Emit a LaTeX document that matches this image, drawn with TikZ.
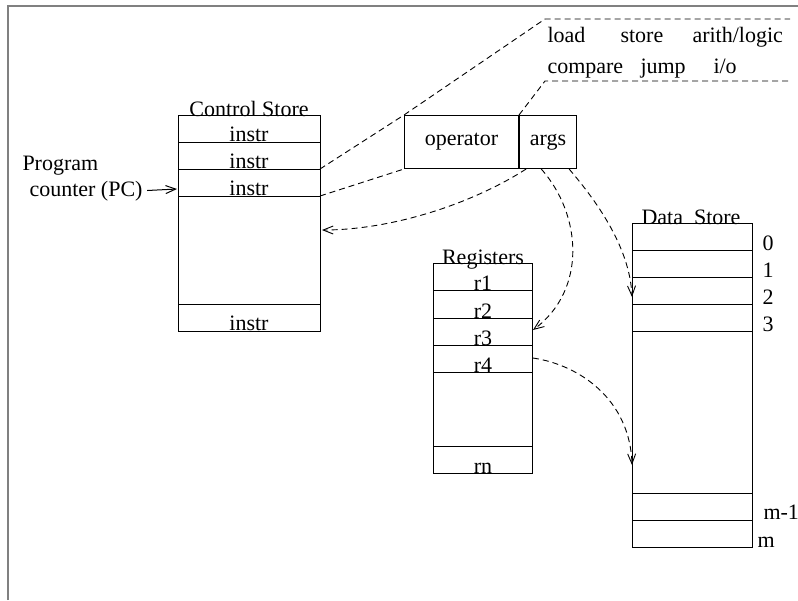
\documentclass[tikz,border=0pt]{standalone}
\usepackage{fontspec}
\setmainfont{Liberation Serif}
\usetikzlibrary{arrows.meta}
\begin{document}
\begin{tikzpicture}[x=1pt, y=-1pt, line width=1pt,
    every node/.style={font=\fontsize{22}{26}\selectfont, inner sep=0pt},
    link/.style={dash pattern=on 6pt off 4pt, line width=0.9pt},
    tip/.style={-{Straight Barb[length=10pt,width=8pt]}}]
        \useasboundingbox (0,0) rectangle (798,600);
        \draw [gray, line width=1.5pt] (8,600) -- (8,6) -- (798,6);

        \draw (178,115) rectangle (320,331);
        \foreach \y in {142,169,196,304} \draw (178,\y) -- (320,\y);
        \node (cstitle) at (249,116) [anchor = base] {Control Store};
        \foreach \y/\n in {141/1,168/2,195/3,330/4}
            \node (ins\n) at (249,\y) [anchor = base] {instr};
        \node (prog) at (22,170) [anchor = base west] {Program};
        \node (pc) at (29,196) [anchor = base west] {counter (PC)};
        \coordinate (pcin) at (177,189);
        \coordinate (cs2) at (320,169);
        \coordinate (cs3) at (320,196);
        \coordinate (csmid) at (322,230);

        \node (op) at (404,115) [draw, anchor = north west, minimum width = 114pt, minimum height = 53pt] {operator};
        \node (args) at (op.north east) [draw, anchor = north west, minimum width = 57pt, minimum height = 53pt] {args};

        \coordinate (ta) at (545,19);
        \coordinate (tb) at (790,19);
        \coordinate (ba) at (545,81);
        \coordinate (bb) at (790,81);
        \node (ld) at (547,42) [anchor = base west] {load};
        \node (st) at (620,42) [anchor = base west] {store};
        \node (al) at (692,42) [anchor = base west] {arith/logic};
        \node (cmp) at (547,73) [anchor = base west] {compare};
        \node (jmp) at (640,73) [anchor = base west] {jump};
        \node (io) at (713,73) [anchor = base west] {i/o};

        \draw (433,263) rectangle (532,473);
        \foreach \y in {290,318,345,372,446} \draw (433,\y) -- (532,\y);
        \node (regtitle) at (483,264) [anchor = base] {Registers};
        \foreach \y/\n in {290/1,318/2,345/3,372/4}
            \node (r\n) at (483,\y) [anchor = base] {r\n};
        \node (rn) at (483,473) [anchor = base] {rn};
        \coordinate (r3in) at (533,330);
        \coordinate (r4out) at (533,358);

        \draw (632,223) rectangle (752,547);
        \foreach \y in {250,277,304,331,493,520} \draw (632,\y) -- (752,\y);
        \node (dstitle) at (691,224) [anchor = base] {Data\ \ Store};
        \foreach \y/\n in {250/0,277/1,304/2,331/3}
            \node (d\n) at (762,\y) [anchor = base west] {\n};
        \node (dm1) at (763,519) [anchor = base west] {m-1};
        \node (dm) at (757,547) [anchor = base west] {m};
        \coordinate (ds2) at (632,297);
        \coordinate (dsmid) at (632,465);

        \draw [tip, shorten <= 4pt] (pc.east) -- (pcin);
        \draw [link] (cs2) -- (op.north west) -- (ta) -- (tb);
        \draw [link] (cs3) -- (op.south west);
        \draw [link] (args.north west) -- (ba) -- (bb);
        \draw [link, tip] (args.-129) .. controls (470,205) and (390,230) .. (csmid);
        \draw [link, tip] (args.-104) .. controls (582,215) and (587,290) .. (r3in);
        \draw [link, tip] (args.-52) .. controls (600,205) and (630,250) .. (ds2);
        \draw [link, tip] (r4out) .. controls (580,365) and (630,400) .. (dsmid);
\end{tikzpicture}
\end{document}
